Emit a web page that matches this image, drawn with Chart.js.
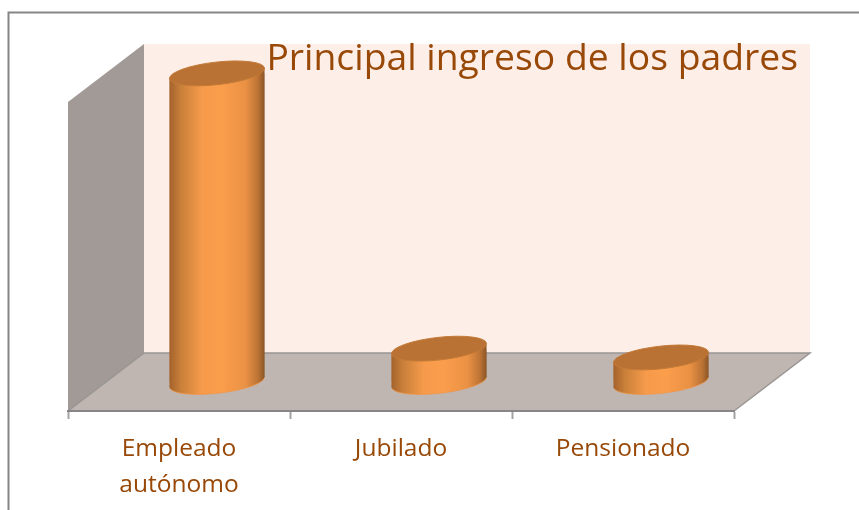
<!DOCTYPE html>
<html>
<head>
<meta charset="utf-8">
<style>html,body{margin:0;padding:0;background:#fff;overflow:hidden}canvas{display:block}</style>
<script src="https://cdn.jsdelivr.net/npm/chart.js@4"></script>
</head>
<body>
<canvas id="c" width="859" height="510"></canvas>
<script>
const categories = [['Empleado', 'autónomo'], 'Jubilado', 'Pensionado'];
const values = [84.2, 9.1, 6.7];
const titleText = 'Principal ingreso de los padres';
const valueMax = 84.3;

const TEXT = '#984807';
const FRAME = '#868686';
const BACK_WALL = '#feeee8';
const SIDE_WALL = '#a19a96';
const FLOOR = '#bfb5b1';
const EDGE = '#999592';
const DEPTH_X = 76, DEPTH_Y = 58;       // full depth of the box
const MID_X = 38, MID_Y = 29;           // where the columns stand within it
const TILT = -6.35 * Math.PI / 180;
const BAR_SHARE = 0.428;

function columnGradient(ctx, cx, w) {
  const g = ctx.createLinearGradient(cx - w / 2, 0, cx + w / 2, 0);
  g.addColorStop(0, '#a4622c');
  g.addColorStop(0.12, '#c9803a');
  g.addColorStop(0.34, '#f69a4b');
  g.addColorStop(0.55, '#fb9e4c');
  g.addColorStop(0.8, '#ea9144');
  g.addColorStop(0.93, '#bd7435');
  g.addColorStop(1, '#8b5627');
  return g;
}

function sidePath(ctx, b) {
  const hw = b.width / 2, s = 5;
  ctx.moveTo(b.x - hw, b.y + s); ctx.lineTo(b.x + hw, b.y - s);
  ctx.lineTo(b.x + hw, b.base - s); ctx.lineTo(b.x - hw, b.base + s);
  ctx.closePath();
}

const box3d = {
  id: 'box3d',
  beforeDraw(chart) {
    const { ctx, chartArea: a } = chart;
    ctx.save();
    // outer frame
    ctx.strokeStyle = FRAME; ctx.lineWidth = 2;
    ctx.beginPath(); ctx.moveTo(8.5, 510); ctx.lineTo(8.5, 12.5); ctx.lineTo(859, 12.5); ctx.stroke();
    // back wall
    ctx.fillStyle = BACK_WALL;
    ctx.fillRect(a.left + DEPTH_X, a.top - DEPTH_Y, a.width, a.height);
    // side wall
    ctx.fillStyle = SIDE_WALL;
    ctx.beginPath();
    ctx.moveTo(a.left, a.top); ctx.lineTo(a.left + DEPTH_X, a.top - DEPTH_Y);
    ctx.lineTo(a.left + DEPTH_X, a.bottom - DEPTH_Y); ctx.lineTo(a.left, a.bottom);
    ctx.closePath(); ctx.fill();
    // floor
    ctx.fillStyle = FLOOR;
    ctx.beginPath();
    ctx.moveTo(a.left, a.bottom); ctx.lineTo(a.left + DEPTH_X, a.bottom - DEPTH_Y);
    ctx.lineTo(a.right + DEPTH_X, a.bottom - DEPTH_Y); ctx.lineTo(a.right, a.bottom);
    ctx.closePath(); ctx.fill();
    // floor edges
    ctx.strokeStyle = EDGE; ctx.lineWidth = 1.5;
    ctx.beginPath();
    ctx.moveTo(a.left, a.bottom); ctx.lineTo(a.left + DEPTH_X, a.bottom - DEPTH_Y);
    ctx.lineTo(a.right + DEPTH_X, a.bottom - DEPTH_Y); ctx.lineTo(a.right, a.bottom);
    ctx.stroke();
    ctx.restore();
  },
  beforeDatasetDraw(chart, args) {
    const { ctx } = chart;
    const bars = chart.getDatasetMeta(args.index).data;
    ctx.save();
    ctx.translate(MID_X, -MID_Y);
    bars.forEach(b => {
      const hw = b.width / 2;
      ctx.fillStyle = columnGradient(ctx, b.x, b.width);
      ctx.beginPath();
      ctx.ellipse(b.x, b.base, hw * 1.006, 11.3, TILT, 0, Math.PI * 2);
      ctx.fill();
      ctx.beginPath();
      sidePath(ctx, b);
      ctx.fill();
      ctx.strokeStyle = 'rgba(240,150,70,0.75)'; ctx.lineWidth = 1;
      ctx.beginPath();
      ctx.ellipse(b.x, b.base, hw * 1.006, 11.3, TILT, 0.1, Math.PI - 0.1);
      ctx.stroke();
    });
    ctx.save();
    ctx.beginPath();
    bars.forEach(b => sidePath(ctx, b));
    ctx.clip();
  },
  afterDatasetDraw(chart, args) {
    const { ctx } = chart;
    const bars = chart.getDatasetMeta(args.index).data;
    ctx.restore();
    bars.forEach(b => {
      ctx.fillStyle = '#b97233';
      ctx.strokeStyle = '#c47a38'; ctx.lineWidth = 1;
      ctx.beginPath();
      ctx.ellipse(b.x, b.y, b.width / 2 * 1.006, 11.3, TILT, 0, Math.PI * 2);
      ctx.fill(); ctx.stroke();
    });
    ctx.restore();
  }
};

new Chart(document.getElementById('c'), {
  type: 'bar',
  plugins: [box3d],
  data: {
    labels: categories,
    datasets: [{
      data: values,
      clip: false,
      categoryPercentage: 1,
      barPercentage: BAR_SHARE,
      borderWidth: 0,
      backgroundColor(c) {
        const x = c.chart.scales.x;
        if (!x || !c.chart.chartArea) return '#f69a4b';
        const w = x.width / categories.length * BAR_SHARE;
        return columnGradient(c.chart.ctx, x.getPixelForValue(c.dataIndex), w);
      }
    }]
  },
  options: {
    responsive: false,
    animation: false,
    devicePixelRatio: 1,
    layout: { padding: { left: 68, right: 61, top: 0, bottom: 0 } },
    plugins: {
      legend: { display: false },
      tooltip: { enabled: false },
      title: {
        display: true,
        text: titleText,
        align: 'end',
        color: TEXT,
        font: { family: 'Open Sans', size: 37.3, weight: 'normal', lineHeight: 1.2 },
        padding: { top: 37, bottom: 20.24 }
      }
    },
    scales: {
      x: {
        type: 'category',
        offset: true,
        grid: { display: true, offset: true, drawOnChartArea: false, drawTicks: true, tickLength: 8, tickWidth: 2, tickColor: '#a3a3a3' },
        border: { display: true, color: FRAME, width: 2 },
        ticks: {
          color: TEXT, autoSkip: false, maxRotation: 0, padding: 12,
          font: { family: 'Open Sans', size: 24.5, lineHeight: 1.47 }
        },
        afterFit(s) { s.height = 99; }
      },
      y: { display: false, min: 0, max: valueMax },
      yr: {
        position: 'right', display: true,
        grid: { display: false }, border: { display: false }, ticks: { display: false },
        afterFit(s) { s.width = 64; }
      }
    }
  }
});
</script>
</body>
</html>
